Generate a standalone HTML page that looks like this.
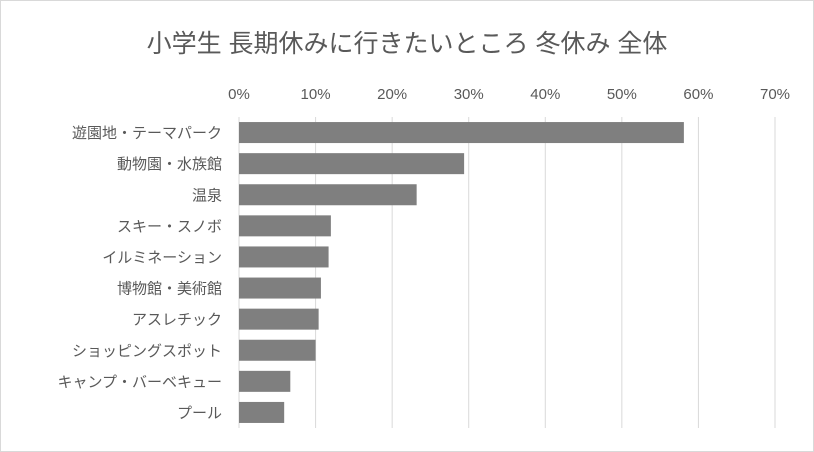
<!DOCTYPE html>
<html><head><meta charset="utf-8">
<style>
body{margin:0;background:#fff;}
#wrap{position:relative;width:814px;height:452px;overflow:hidden;}
svg text{font-family:"Liberation Sans","Noto Sans CJK JP",sans-serif;}
</style></head>
<body>
<div id="wrap">
<svg id="chart" width="814" height="452">
<rect x="0.5" y="0.5" width="813" height="451" fill="#fff" stroke="#d9d9d9"/>
<text x="407" y="52" text-anchor="middle" font-size="25" fill="#595959">小学生 長期休みに行きたいところ 冬休み 全体</text>
<g id="grid"></g><g id="bars"></g><g id="labels"></g>
</svg>
</div>
<script>
const categories=["遊園地・テーマパーク","動物園・水族館","温泉","スキー・スノボ","イルミネーション","博物館・美術館","アスレチック","ショッピングスポット","キャンプ・バーベキュー","プール"];
const values=[58.1,29.4,23.2,12.0,11.7,10.7,10.4,10.0,6.7,5.9];
const ticks=[0,10,20,30,40,50,60,70];
const tickLabels=["0%","10%","20%","30%","40%","50%","60%","70%"];
const NS="http://www.w3.org/2000/svg";
const x0=239,x1=775,xmax=70,yTop=117,yBot=428;
const xs=v=>x0+(x1-x0)*v/xmax;
const band=(yBot-yTop)/categories.length;
function mk(t,a,p){const e=document.createElementNS(NS,t);for(const k in a)e.setAttribute(k,a[k]);p.appendChild(e);return e;}
const grid=document.getElementById('grid'),bars=document.getElementById('bars'),labels=document.getElementById('labels');
ticks.forEach((t,i)=>{
 const l=mk('line',{x1:xs(t),x2:xs(t),y1:yTop,y2:yBot,stroke:'#d9d9d9','stroke-width':1},grid);
 
 
 const tx=mk('text',{x:xs(t),y:99,'text-anchor':'middle','font-size':15,fill:'#595959'},labels);
 tx.textContent=tickLabels[i];
 
 
});
categories.forEach((c,i)=>{
 const cy=yTop+band*(i+0.5);
 const r=mk('rect',{x:x0,y:cy-10.5,width:xs(values[i])-x0,height:21,fill:'#7f7f7f'},bars);
 
 
 const tx=mk('text',{x:222,y:cy+5.5,'text-anchor':'end','font-size':15,fill:'#595959'},labels);
 tx.textContent=c;
 
 
});
</script>
</body></html>
